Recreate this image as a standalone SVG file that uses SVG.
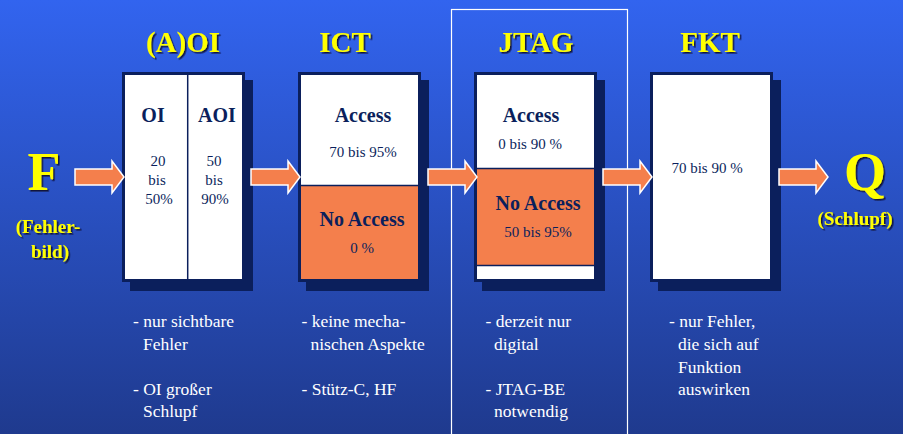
<svg xmlns="http://www.w3.org/2000/svg" width="903" height="434" viewBox="0 0 903 434">
  <defs>
    <linearGradient id="bg" x1="0" y1="0" x2="0" y2="1">
      <stop offset="0" stop-color="#3264ef"/>
      <stop offset="1" stop-color="#1f3a8e"/>
    </linearGradient>
    <filter id="drop" x="-10%" y="-10%" width="130%" height="130%">
      <feDropShadow dx="1.6" dy="1.6" stdDeviation="0.3" flood-color="#111133" flood-opacity="0.9"/>
    </filter>
    <path id="arrow" d="M0,-8 H37 V-16 L49,0 L37,16 V8 H0 Z" fill="#f47f4c" stroke="#ffffff" stroke-width="1.5"/>
  </defs>

  <rect width="903" height="434" fill="url(#bg)"/>

  <!-- JTAG highlight frame -->
  <rect id="jtag-frame" x="451.5" y="9.5" width="176" height="430" fill="none" stroke="#ffffff" stroke-width="1.2"/>

  <!-- box shadows -->
  <g fill="#0b1f5c">
    <rect x="130" y="80" width="123" height="211"/>
    <rect x="306" y="80" width="123" height="211"/>
    <rect x="482" y="80" width="123" height="211"/>
    <rect x="658" y="80" width="123" height="211"/>
  </g>

  <!-- yellow titles -->
  <g font-family="'Liberation Serif', 'Times New Roman', serif" font-weight="bold" fill="#ffff00" text-anchor="middle" filter="url(#drop)">
    <g id="input-F">
      <text x="44" y="190" font-size="54">F</text>
      <text x="48" y="233" font-size="19">(Fehler-</text>
      <text x="50" y="258" font-size="19">bild)</text>
    </g>
    <g id="output-Q">
      <text x="865" y="190" font-size="54">Q</text>
      <text x="855" y="225" font-size="19">(Schlupf)</text>
    </g>
    <text x="183" y="52" font-size="29">(A)OI</text>
    <text x="345" y="52" font-size="29">ICT</text>
    <text x="536" y="52" font-size="29">JTAG</text>
    <text x="710" y="52" font-size="29">FKT</text>
  </g>

  <!-- (A)OI -->
  <g id="node-aoi" font-family="'Liberation Serif', 'Times New Roman', serif" fill="#0b1f5c" text-anchor="middle">
    <rect x="123.5" y="73.5" width="120" height="207" fill="#ffffff" stroke="#0b1f5c" stroke-width="3"/>
    <line x1="187.7" y1="75" x2="187.7" y2="279" stroke="#0b1f5c" stroke-width="1.5"/>
    <g font-weight="bold" font-size="20">
      <text x="153" y="122">OI</text>
      <text x="217" y="122">AOI</text>
    </g>
    <g font-size="15">
      <text x="158" y="166">20</text>
      <text x="157" y="185">bis</text>
      <text x="159" y="204">50%</text>
      <text x="214" y="166">50</text>
      <text x="214" y="185">bis</text>
      <text x="215" y="204">90%</text>
    </g>
  </g>

  <!-- ICT -->
  <g id="node-ict" font-family="'Liberation Serif', 'Times New Roman', serif" fill="#0b1f5c" text-anchor="middle">
    <rect x="299.5" y="73.5" width="120" height="207" fill="#ffffff" stroke="#0b1f5c" stroke-width="3"/>
    <rect x="301" y="186" width="117" height="93" fill="#f47f4c"/>
    <line x1="301" y1="185.5" x2="418" y2="185.5" stroke="#0b1f5c" stroke-width="1.5"/>
    <text x="363" y="122" font-weight="bold" font-size="20">Access</text>
    <text x="363" y="157" font-size="15">70 bis 95%</text>
    <text x="362" y="226" font-weight="bold" font-size="20">No Access</text>
    <text x="362" y="253" font-size="15">0 %</text>
  </g>

  <!-- JTAG -->
  <g id="node-jtag" font-family="'Liberation Serif', 'Times New Roman', serif" fill="#0b1f5c" text-anchor="middle">
    <rect x="475.5" y="73.5" width="120" height="207" fill="#ffffff" stroke="#0b1f5c" stroke-width="3"/>
    <rect x="477" y="169" width="117" height="96" fill="#f47f4c"/>
    <line x1="477" y1="168.5" x2="594" y2="168.5" stroke="#0b1f5c" stroke-width="1.5"/>
    <line x1="477" y1="265.5" x2="594" y2="265.5" stroke="#0b1f5c" stroke-width="1.5"/>
    <text x="531" y="122" font-weight="bold" font-size="20">Access</text>
    <text x="530" y="149" font-size="15">0 bis 90 %</text>
    <text x="538" y="210" font-weight="bold" font-size="20">No Access</text>
    <text x="538" y="237" font-size="15">50 bis 95%</text>
  </g>

  <!-- FKT -->
  <g id="node-fkt" font-family="'Liberation Serif', 'Times New Roman', serif" fill="#0b1f5c" text-anchor="middle">
    <rect x="651.5" y="73.5" width="120" height="207" fill="#ffffff" stroke="#0b1f5c" stroke-width="3"/>
    <text x="707" y="173" font-size="15">70 bis 90 %</text>
  </g>

  <!-- notes under each stage -->
  <g id="notes" font-family="'Liberation Serif', 'Times New Roman', serif" font-size="17.5" fill="#ffffff">
    <text x="133" y="327">- nur sichtbare</text>
    <text x="143" y="350">Fehler</text>
    <text x="133" y="395">- OI gro&#223;er</text>
    <text x="143" y="417">Schlupf</text>
    <text x="301.5" y="327">- keine mecha-</text>
    <text x="310.5" y="350">nischen Aspekte</text>
    <text x="301.5" y="395">- St&#252;tz-C, HF</text>
    <text x="485.5" y="327">- derzeit nur</text>
    <text x="494" y="350">digital</text>
    <text x="485.5" y="395">- JTAG-BE</text>
    <text x="494" y="417">notwendig</text>
    <text x="669" y="327">- nur Fehler,</text>
    <text x="678" y="350">die sich auf</text>
    <text x="678" y="373">Funktion</text>
    <text x="678" y="395">auswirken</text>
  </g>

  <!-- flow arrows -->
  <g id="connectors">
    <use href="#arrow" x="75" y="177"/>
    <use href="#arrow" x="251" y="177"/>
    <use href="#arrow" x="428" y="177"/>
    <use href="#arrow" x="603" y="177"/>
    <use href="#arrow" x="779" y="177"/>
  </g>
</svg>
